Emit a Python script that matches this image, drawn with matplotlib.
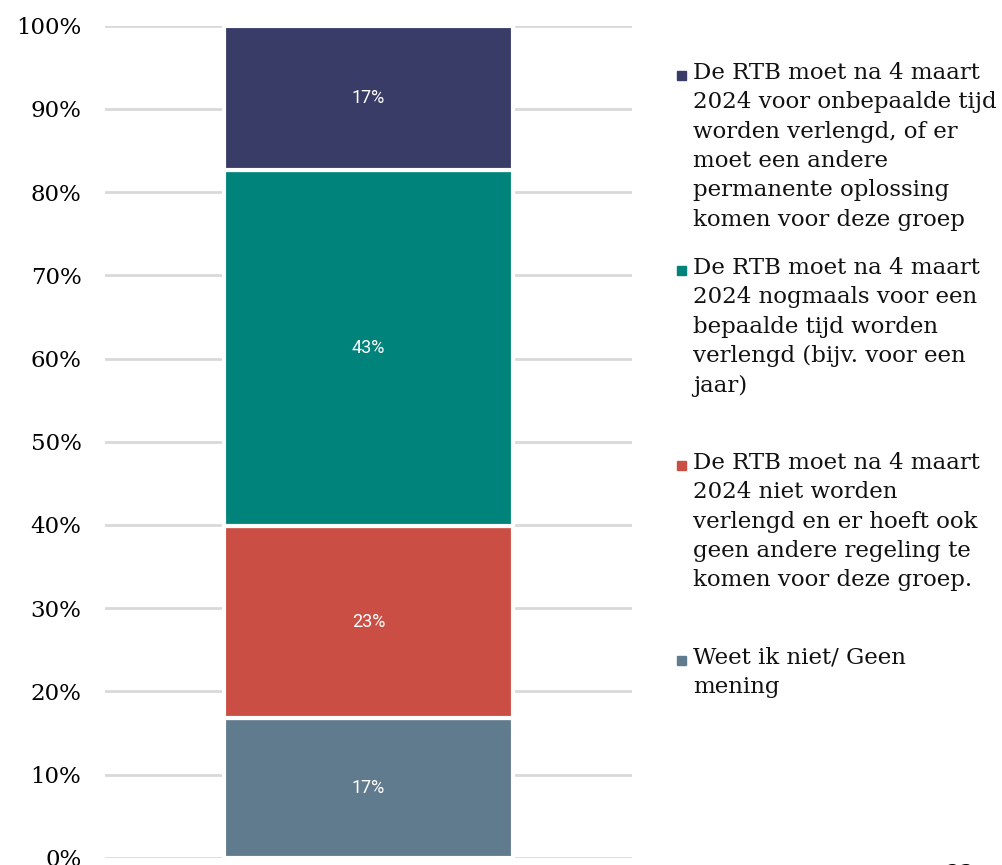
import matplotlib.pyplot as plt
from matplotlib.patches import Rectangle

# survey answers, bottom to top of the stacked bar
labels = [
    "Weet ik niet/ Geen\nmening",
    "De RTB moet na 4 maart\n2024 niet worden\nverlengd en er hoeft ook\ngeen andere regeling te\nkomen voor deze groep.",
    "De RTB moet na 4 maart\n2024 nogmaals voor een\nbepaalde tijd worden\nverlengd (bijv. voor een\njaar)",
    "De RTB moet na 4 maart\n2024 voor onbepaalde tijd\nworden verlengd, of er\nmoet een andere\npermanente oplossing\nkomen voor deze groep",
]
values = [16.8, 23.1, 42.8, 17.3]
shown = ["17%", "23%", "43%", "17%"]
colors = ["#617b8e", "#cb4e44", "#00837a", "#383c66"]
yticks = [0, 10, 20, 30, 40, 50, 60, 70, 80, 90, 100]

W, H = 1003, 865
fig = plt.figure(figsize=(W / 100, H / 100), dpi=100)
ax = fig.add_axes([105 / W, 1 - 857.7 / H, 527 / W, 832 / H])

bottom = 0
for v, s, c in zip(values, shown, colors):
    ax.bar(0, v, bottom=bottom, width=0.5465, color=c, edgecolor="white",
           linewidth=3, zorder=3)
    ax.text(0, bottom + v / 2, s, ha="center", va="center", color="white",
            fontsize=13, family="Roboto", zorder=4)
    bottom += v

ax.set_xlim(-0.5, 0.5)
ax.set_ylim(0, 100)
ax.set_yticks(yticks)
ax.set_yticklabels([f"{t}%" for t in yticks], family="DejaVu Serif", fontsize=16.5)
ax.tick_params(axis="y", length=0, pad=17)
ax.set_xticks([])
ax.yaxis.grid(True, color="#d9d9d9", linewidth=2, zorder=0)
for sp in ax.spines.values():
    sp.set_visible(False)

# legend, top entry first
tops = [62, 257, 452, 647]
for lab, c, t in zip(labels[::-1], colors[::-1], tops):
    fig.patches.append(Rectangle((677 / W, 1 - (t + 18) / H), 9 / W, 9 / H,
                                 transform=fig.transFigure, color=c))
    fig.text(693 / W, 1 - t / H, lab, ha="left", va="top", fontsize=16.5,
             family="DejaVu Serif", linespacing=1.43, color="#111111")

# page number, mostly off the page
fig.text(960 / W, 2 / H, "23", ha="center", va="top", fontsize=16,
         family="DejaVu Serif")

fig.savefig("out.png", dpi=100)
